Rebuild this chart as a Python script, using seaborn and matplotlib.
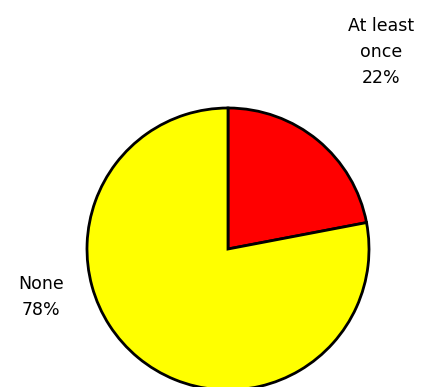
import matplotlib
matplotlib.use("Agg")
import matplotlib.pyplot as plt
import seaborn as sns

# Survey answer shares
categories = ["At least\nonce", "None"]
shares = [22, 78]
slice_colors = ["#FF0000", "#FFFF00"]

sns.set_style("white")
plt.rcParams["font.family"] = ["DejaVu Sans"]

W, H = 422, 387
fig = plt.figure(figsize=(W / 100, H / 100), dpi=100)

# Pie centred at (228, 249) px from the top-left, radius 141 px
cx, cy, r = 228, 249, 141
ax = fig.add_axes([(cx - r) / W, (H - cy - r) / H, 2 * r / W, 2 * r / H])
ax.pie(
    shares,
    colors=slice_colors,
    startangle=90,
    counterclock=False,
    radius=1.0,
    wedgeprops=dict(edgecolor="black", linewidth=2),
)
ax.set_xlim(-1, 1)
ax.set_ylim(-1, 1)
ax.set_aspect("equal")
ax.axis("off")
for p in ax.patches:
    p.set_clip_on(False)

# Category labels with percentages
label_pos = [(381, 52), (41, 297)]
for cat, val, (px, py) in zip(categories, shares, label_pos):
    fig.text(px / W, (H - py) / H, f"{cat}\n{val}%", ha="center", va="center",
             fontsize=12.5, color="black", linespacing=1.6)

fig.savefig("out.png", dpi=100)
